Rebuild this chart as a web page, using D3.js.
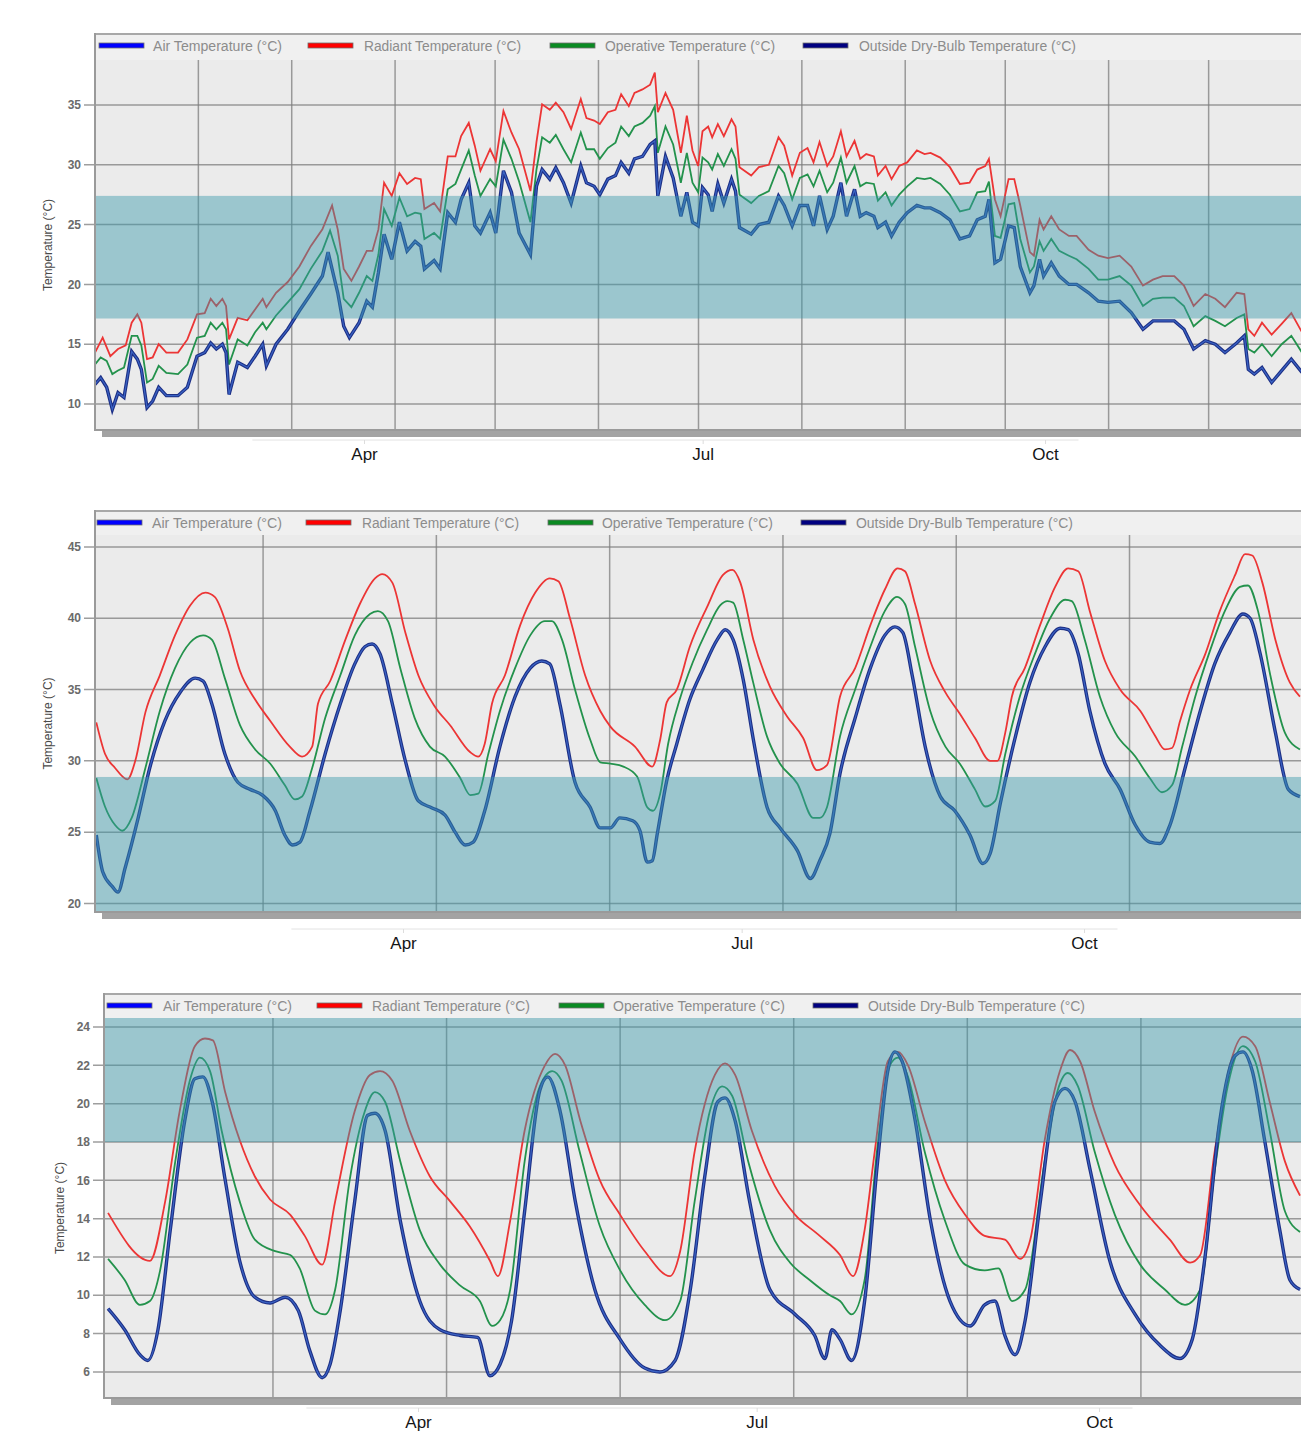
<!DOCTYPE html>
<html>
<head>
<meta charset="utf-8">
<script src="https://cdn.jsdelivr.net/npm/d3@7"></script>
<style>
  body { margin: 0; background: #fff; }
  svg { display: block; font-family: "Liberation Sans", Arial, sans-serif; }
</style>
</head>
<body>
<svg id="chart" width="1301" height="1440"></svg>
<script>
// Legend / series names
var seriesNames = ["Air Temperature (°C)", "Radiant Temperature (°C)", "Operative Temperature (°C)", "Outside Dry-Bulb Temperature (°C)"]
var legendColors = ["#0000ff", "#ff0000", "#0a8a22", "#000080"]
var yTitle = "Temperature (°C)"

// Bottom axis month labels
var labelMonths = [new Date(2019, 3, 1), new Date(2019, 6, 1), new Date(2019, 9, 1)]

// Panel 1: daily values, [day of year, °C]
var monthStartDays = [31, 59, 90, 120, 151, 181, 212, 243, 273, 304, 334]
var yTicks1 = [10, 15, 20, 25, 30, 35]
var band1 = [17.15, 27.4]

var radiant1 = [[0,14.3],[2.3,15.55],[4.6,14.0],[6.9,14.6],[9.2,14.9],[11,16.8],[12.7,17.5],[13.9,16.8],[15.6,13.75],[17.3,13.9],[19.1,15.0],[21.4,14.3],[24.9,14.3],[27.7,15.4],[30.6,17.5],[32.9,17.6],[34.7,18.8],[36.4,18.2],[38.2,18.8],[39.3,18.2],[40.2,15.4],[42.8,17.2],[45.7,17.0],[48,17.9],[50.3,18.8],[51.4,18.1],[54.3,19.3],[57.8,20.2],[61.3,21.5],[64.7,23.2],[68.2,24.6],[71.1,26.6],[72.8,24.6],[74.6,21.3],[76.9,20.3],[79.2,21.5],[81.5,22.8],[83.2,22.8],[85,24.6],[86.7,28.5],[89,27.4],[91.3,29.3],[93.6,28.4],[96,28.9],[97.7,28.8],[98.8,26.3],[101.7,26.8],[103.5,26.1],[105.8,30.7],[108.1,30.7],[109.8,32.4],[112.1,33.5],[113.9,31.6],[115.6,29.5],[118.5,31.3],[120.2,30.3],[122.5,34.5],[124.9,32.7],[127.2,31.3],[130.6,27.8],[132.4,31.9],[134.1,35.05],[136.4,34.6],[138.2,35.2],[140.5,34.4],[142.8,33.0],[145.7,35.5],[147.4,33.9],[149.7,33.7],[151.4,33.4],[153.8,34.4],[156.1,34.6],[157.8,35.9],[160.1,34.9],[161.8,36.0],[164.2,36.3],[166.5,36.7],[167.9,37.7],[168.8,34.4],[171.1,36.0],[173.4,34.6],[175.7,31.0],[177.5,34.1],[179.2,31.2],[180.9,29.9],
  [182.2,32.8],[183.9,33.2],[185.1,32.3],[186.8,33.4],[188.6,32.4],[190.9,33.8],[192.1,33.2],[193.3,29.8],[196.8,29.1],[199.1,29.8],[202.1,30.0],[205,32.3],[206.7,31.6],[209.1,29.1],[211.4,31.0],[213.7,31.4],[215.5,30.2],[217.3,31.9],[219.6,29.9],[221.4,30.7],[223.7,32.8],[225.4,30.7],[227.8,32.0],[229.5,30.5],[231.3,30.9],[233.6,30.7],[234.8,29.1],[237.1,29.9],[238.9,28.8],[241.2,29.9],[243.6,30.2],[246.5,31.2],[248.8,30.9],[250.6,31.0],[253.5,30.6],[256.4,29.8],[259.4,28.4],[262.3,28.5],[264.6,29.6],[267,29.9],[268.1,30.5],[269.9,27.1],[271.6,25.7],[274,28.8],[275.7,28.8],[277.5,26.6],[280.4,22.7],[281.6,22.4],[283.3,25.4],[284.5,24.6],[286.8,25.7],[289.2,24.6],[292.1,24.05],[294.4,24.05],[298,22.9],[300.9,22.4],[303.8,22.2],[307.3,22.4],[310.8,21.5],[314.3,19.9],[317.3,20.4],[320.2,20.7],[323.7,20.7],[326.6,19.9],[329.5,18.2],[333,19.2],[336,18.8],[338.9,18.1],[342.4,19.3],[344.7,19.2],[345.9,16.25],[347.7,15.7],[350,16.8],[352.9,15.8],[355.9,16.7],[358.8,17.6],[362,16.0]]

var operative1 = [[0,13.3],[1.7,13.9],[3.5,13.6],[5.2,12.5],[6.9,12.8],[8.7,13.05],[11,15.7],[12.7,15.7],[13.9,14.9],[15.6,11.8],[17.3,12.1],[19.1,13.2],[21.4,12.6],[24.9,12.5],[27.7,13.3],[30.6,15.55],[32.9,15.7],[34.7,16.8],[36.4,16.25],[38.2,16.8],[39.3,16.25],[40.2,13.3],[42.8,15.4],[45.7,14.9],[48,16.0],[50.3,16.8],[51.4,16.25],[54.3,17.4],[57.8,18.5],[61.3,19.6],[64.7,21.3],[68.2,22.8],[70.5,24.5],[72.8,22.4],[74.6,18.8],[76.9,18.1],[79.2,19.3],[81.5,20.7],[83.2,20.3],[85,22.5],[86.7,26.3],[89,24.9],[91.3,27.25],[93.6,25.7],[96,26.0],[97.7,25.9],[98.8,23.8],[101.7,24.3],[103.5,23.8],[105.8,27.95],[108.1,28.4],[109.8,29.6],[112.1,31.2],[113.9,29.1],[115.6,27.4],[118.5,28.8],[120.2,28.2],[122.5,32.1],[124.9,30.5],[127.2,28.6],[130.6,25.2],[132.4,29.6],[134.1,32.3],[136.4,31.85],[138.2,32.5],[140.5,31.3],[142.8,30.2],[145.7,32.7],[147.4,31.3],[149.7,31.3],[151.4,30.5],[153.8,31.4],[156.1,31.85],[157.8,33.2],[160.1,32.4],[161.8,33.2],[164.2,33.5],[166.5,34.1],[167.9,34.9],[168.8,31.0],[171.1,33.2],[173.4,31.7],[175.7,28.5],[177.5,31.0],[179.2,28.5],[180.9,27.7],
  [182.2,30.6],[183.9,30.2],[185.1,29.6],[186.8,30.9],[188.6,29.9],[190.9,31.3],[192.1,30.5],[193.3,27.5],[196.8,26.8],[199.1,27.4],[202.1,27.8],[205,29.9],[206.7,29.3],[209.1,27.1],[211.4,28.9],[213.7,29.2],[215.5,28.2],[217.3,29.5],[219.6,27.7],[221.4,28.5],[223.7,30.6],[225.4,28.5],[227.8,29.9],[229.5,28.2],[231.3,28.5],[233.6,28.4],[234.8,27.0],[237.1,27.7],[238.9,26.6],[241.2,27.5],[243.6,28.2],[246.5,28.9],[248.8,28.8],[250.6,28.9],[253.5,28.4],[256.4,27.5],[259.4,26.1],[262.3,26.3],[264.6,27.7],[267,27.8],[268.1,28.6],[269.9,24.05],[271.6,23.9],[274,26.7],[275.7,26.8],[277.5,23.8],[280.4,21.0],[281.6,21.5],[283.3,23.6],[284.5,22.8],[286.8,23.8],[289.2,22.8],[292.1,22.4],[294.4,22.1],[298,21.3],[300.9,20.4],[303.8,20.4],[307.3,20.7],[310.8,19.9],[314.3,18.2],[317.3,18.8],[320.2,18.9],[323.7,18.9],[326.6,18.2],[329.5,16.5],[333,17.35],[336,16.95],[338.9,16.5],[342.4,17.2],[344.7,17.5],[345.9,14.6],[347.7,14.3],[350,15.0],[352.9,14.0],[355.9,15.0],[358.8,15.7],[362,14.3]]

var outside1 = [[0,11.65],[1.7,12.2],[3.5,11.4],[5.2,9.55],[6.9,10.95],[8.7,10.55],[11,14.4],[12.7,13.75],[13.9,12.9],[15.6,9.7],[17.3,10.25],[19.1,11.4],[21.4,10.7],[24.9,10.7],[27.7,11.4],[30.6,14.0],[32.9,14.3],[34.7,15.1],[36.4,14.6],[38.2,15.0],[39.3,14.3],[40.2,10.8],[42.8,13.5],[45.7,13.05],[48,14.0],[50.3,15.0],[51.4,13.2],[54.3,15.0],[57.8,16.25],[61.3,17.8],[64.7,19.2],[68.2,20.7],[69.9,22.7],[72.8,19.3],[74.6,16.5],[76.3,15.55],[79.2,16.8],[81.5,18.6],[83.2,18.1],[85,21.0],[86.7,24.2],[89,22.1],[91.3,25.2],[93.6,22.8],[96,23.6],[97.7,23.2],[98.8,21.3],[101.7,22.0],[103.5,21.3],[105.8,26.0],[108.1,25.2],[109.8,27.1],[112.1,28.5],[113.9,24.9],[115.6,24.3],[118.5,26.0],[120.2,24.3],[122.5,29.5],[124.9,27.7],[127.2,24.3],[130.6,22.5],[132.4,28.2],[134.1,29.6],[136.4,28.8],[138.2,29.75],[140.5,28.5],[142.8,26.8],[145.7,29.9],[147.4,28.5],[149.7,28.2],[151.4,27.5],[153.8,28.8],[156.1,29.1],[157.8,30.2],[160.1,29.3],[161.8,30.5],[164.2,30.7],[166.5,31.7],[167.9,32.0],[168.8,27.4],[171.1,30.7],[173.4,28.9],[175.7,25.7],[177.5,27.7],[179.2,25.2],[180.9,24.9],
  [182.2,28.1],[183.9,27.5],[185.1,26.1],[186.8,28.4],[188.6,26.8],[190.9,28.8],[192.1,27.8],[193.3,24.75],[196.8,24.2],[199.1,25.0],[202.1,25.2],[205,27.4],[206.7,26.6],[209.1,24.9],[211.4,26.6],[213.7,26.6],[215.5,24.9],[217.3,27.4],[219.6,24.6],[221.4,25.7],[223.7,28.5],[225.4,25.7],[227.8,27.95],[229.5,25.7],[231.3,26.0],[233.6,25.7],[234.8,24.75],[237.1,25.2],[238.9,24.05],[241.2,25.2],[243.6,26.0],[246.5,26.6],[248.8,26.4],[250.6,26.4],[253.5,26.0],[256.4,25.4],[259.4,23.8],[262.3,24.05],[264.6,25.4],[267,25.7],[268.1,27.1],[269.9,21.8],[271.6,22.1],[274,24.9],[275.7,24.75],[277.5,21.5],[280.4,19.3],[281.6,19.9],[283.3,22.1],[284.5,20.7],[286.8,21.8],[289.2,20.7],[292.1,20.0],[294.4,20.0],[298,19.3],[300.9,18.6],[303.8,18.5],[307.3,18.6],[310.8,17.65],[314.3,16.25],[317.3,16.95],[320.2,16.95],[323.7,16.95],[326.6,16.25],[329.5,14.6],[333,15.3],[336,15.0],[338.9,14.3],[342.4,15.1],[344.7,15.7],[345.9,12.9],[347.7,12.5],[350,13.05],[352.9,11.8],[355.9,12.8],[358.8,13.75],[362,12.65]]

// air temperature sits on top of the outside dry-bulb line in this run
var air1 = outside1

// Panel 2: hourly values over one week, [hour, °C]
var dayBoundaries = [24, 48, 72, 96, 120, 144]
var yTicks2 = [20, 25, 30, 35, 40, 45]
var band2 = [18, 28.87]

var radiant2 = [[0.9,32.7],[2.1,30.5],[3.5,29.5],[5.2,28.7],[6.3,30.0],[7.7,33.4],[9.7,36.0],[11.8,38.8],[13.9,40.9],[16,41.8],[17.3,41.5],[19.1,39.3],[20.8,36.3],[22.9,34.3],[25,32.8],[27.7,31.0],[29.4,30.3],[30.8,31.0],[31.6,34.0],[33.3,35.6],[35.4,38.5],[37.4,41.0],[39.5,42.8],[40.5,43.1],[41.9,42.5],[43.7,39.0],[45.5,36.0],[47.8,33.8],[49.9,32.5],[52.7,30.6],[53.8,30.3],[54.7,31.2],[55.7,34.0],[57.5,36.0],[59.6,39.5],[61.7,41.8],[63.7,42.8],[64.9,42.6],[66.5,40.0],[68.6,36.0],[70.7,33.5],[72.1,32.4],[75.5,31.0],[77.9,29.6],[79,31.5],[79.9,34.1],[81.3,35.0],[83.1,38.0],[85.5,40.8],[87.7,43.05],[89,43.4],[90.1,42.5],[91.9,38.5],[94.2,35.2],[96.6,33.1],[98.8,31.6],[100.7,29.35],[102.1,29.7],[103.9,34.5],[106,36.5],[108.1,39.5],[110.1,42.0],[111.9,43.5],[112.9,43.3],[114.3,41.0],[116.4,37.0],[118.5,34.8],[120.5,33.3],[122.6,31.6],[124.7,30.0],[125.7,30.0],[126.8,32.0],[127.7,34.5],[129.5,36.5],[131.6,39.5],[133.7,42.2],[135.5,43.5],[136.9,43.3],[138.5,40.5],[140.6,37.0],[142.7,35.0],[145.5,33.5],[147.5,31.8],[148.9,30.8],[149.9,30.9],[151,32.8],[152.4,35.0],[154.5,37.5],[156.5,40.5],[158.6,43.0],[160,44.5],[161,44.4],[162.4,42.5],[164.2,38.5],[166.2,35.5],[167.6,34.5]]

var operative2 = [[0.9,28.8],[2.1,26.8],[3.5,25.5],[4.5,25.1],[5.8,26.0],[7.7,29.5],[9.7,33.5],[11.8,36.5],[13.9,38.3],[15.7,38.8],[16.9,38.5],[18.7,35.8],[20.8,32.5],[22.9,30.8],[25,29.8],[27,28.3],[28.4,27.3],[29.4,27.5],[30.8,29.5],[32.6,33.0],[34.7,36.0],[36.7,38.8],[38.8,40.3],[39.9,40.5],[41.3,39.8],[43,36.5],[45,33.0],[47.1,31.0],[49.2,30.3],[51.3,28.8],[52.7,27.6],[53.8,27.7],[55.2,30.5],[56.8,33.5],[58.9,36.5],[61,38.8],[63,39.8],[64,39.8],[65.4,38.5],[67.2,35.0],[69.3,31.5],[70.7,29.9],[72.1,29.8],[73.9,29.6],[75.8,28.9],[77.2,26.75],[78,26.5],[79,27.7],[80.1,31.2],[81.7,34.3],[83.5,36.9],[85.5,39.2],[87.3,40.9],[88.3,41.2],[89.1,41.1],[90.5,38.5],[91.9,35.45],[93.8,31.7],[95.6,29.8],[98,28.4],[100.2,26.0],[101.1,26.0],[102.1,26.75],[103.9,31.7],[106,35.0],[108.1,38.0],[110.1,40.5],[111.8,41.5],[112.9,41.0],[114.3,38.0],[116.4,33.5],[118.5,31.0],[120.5,29.8],[122.6,28.0],[124,26.8],[125.4,27.2],[126.8,30.5],[128.8,34.5],[130.9,37.5],[133,40.0],[135.1,41.3],[136,41.2],[137.8,38.5],[139.9,34.5],[142,32.0],[144.8,30.3],[146.8,28.8],[148.5,27.8],[149.9,28.3],[151.3,31.0],[153.1,34.5],[155.2,37.8],[157.2,40.5],[159.3,42.2],[160.4,42.3],[161.8,40.5],[163.5,36.0],[165.5,32.0],[167.6,30.8]]

var outside2 = [[0.9,24.8],[1.8,22.2],[3.1,21.2],[3.9,20.8],[4.9,22.5],[6.7,26.0],[8.3,29.5],[10.4,32.8],[12.5,34.8],[14.6,35.8],[15.7,35.6],[16.9,34.0],[18.7,30.5],[20.5,28.5],[22.2,28.0],[23.9,27.6],[25.7,26.5],[27,24.8],[28.1,24.1],[29.1,24.3],[30.5,26.5],[32.6,30.5],[34.7,34.0],[36.7,36.8],[38.1,38.0],[39.1,38.2],[40.2,37.5],[41.9,34.0],[43.7,30.0],[45.5,27.2],[47.4,26.7],[49.2,26.2],[50.6,25.0],[52,24.1],[53.1,24.3],[54.7,26.5],[56.8,31.0],[58.9,34.5],[61,36.5],[62.6,37.0],[63.7,36.8],[65.1,34.0],[67.2,28.5],[69.3,26.75],[70.7,25.3],[72.1,25.3],[73.4,26.0],[75.2,25.8],[76.2,25.1],[77.2,22.9],[77.9,23.0],[78.6,24.9],[79.9,28.6],[81.3,31.2],[83.1,34.3],[84.9,36.4],[86.9,38.5],[88,39.2],[89.1,38.5],[90.5,35.7],[91.9,31.5],[93.8,26.75],[95.6,25.3],[98,23.7],[99.8,21.75],[101.1,23.0],[102.5,24.9],[103.9,29.1],[106,33.0],[108.1,36.5],[110.1,38.8],[111.5,39.4],[112.6,39.0],[113.9,36.0],[115.7,31.0],[117.8,27.5],[119.8,26.5],[121.9,24.8],[123.7,22.8],[124.7,23.5],[126.1,27.0],[128.1,31.5],[130.2,35.5],[132.3,38.0],[134.4,39.3],[135.5,39.2],[136.9,37.5],[138.5,33.5],[140.6,29.8],[142.7,28.0],[144.8,25.5],[146.8,24.3],[148.2,24.2],[149.6,25.5],[151.7,29.5],[153.8,33.5],[155.8,36.8],[157.9,39.0],[159.7,40.3],[160.7,40.0],[162.1,37.5],[164.2,32.0],[166,28.0],[167.6,27.5]]

var air2 = outside2

// Panel 3: hourly values over one week, [hour, °C]
var yTicks3 = [6, 8, 10, 12, 14, 16, 18, 20, 22, 24]
var band3 = [18, 25]

var radiant3 = [[1.2,14.3],[7,11.8],[9.1,14.9],[11.1,19.6],[13.2,23.0],[14.6,23.4],[15.7,23.3],[17.4,20.6],[19.4,18.1],[21.5,16.2],[23.6,15.0],[26.4,14.2],[28.4,13.1],[30.8,11.6],[32.6,14.9],[35.3,19.6],[37.4,21.5],[38.8,21.7],[40.5,21.2],[42.9,18.6],[45.7,16.2],[48.5,14.9],[51.2,13.6],[54,11.8],[55.1,11.0],[56.8,13.9],[58.8,18.6],[61.6,22.0],[63,22.6],[64.4,22.0],[66.5,19.1],[69.2,16.0],[72,14.2],[75.4,12.3],[78.9,11.0],[80.3,12.3],[82.3,17.5],[85.1,21.5],[86.5,22.1],[87.9,21.5],[90.2,18.6],[93.4,15.7],[96.2,14.2],[99.6,13.1],[102.4,12.1],[104.2,11.0],[105.8,13.4],[107.2,17.5],[109,22.2],[110.4,22.7],[111.8,22.0],[114.1,19.1],[116.9,16.0],[119.7,14.2],[122.4,13.1],[125.2,12.9],[127.3,11.9],[128.7,12.9],[130.7,18.1],[132.8,21.7],[134.2,22.8],[135.6,22.2],[137.6,19.6],[140.4,16.8],[143.9,14.7],[148,12.9],[150.8,11.7],[152.2,12.1],[154.2,17.5],[156.3,22.0],[158.1,23.5],[159.8,23.0],[161.8,20.1],[163.9,17.0],[166,15.2]]

var operative3 = [[1.2,11.9],[3.5,10.8],[5.6,9.5],[7,9.7],[8.4,11.3],[10.5,17.0],[12.5,21.2],[13.9,22.4],[15.3,21.7],[16.9,18.6],[19.4,14.9],[21.5,12.9],[24.3,12.3],[26.4,12.1],[27.7,11.4],[29.8,9.2],[31.2,9.0],[32.6,10.3],[34.6,16.0],[36.7,19.6],[38.1,20.6],[39.5,20.1],[41.6,17.0],[44.3,13.4],[47.1,11.6],[49.9,10.5],[52.6,9.7],[54.3,8.4],[55.4,8.7],[56.8,10.3],[58.8,17.0],[60.9,20.9],[62.6,21.7],[63.9,21.2],[66.4,17.5],[69.2,13.6],[72,11.3],[75.4,9.5],[78.2,8.7],[80.3,9.7],[82.3,14.9],[84.4,19.6],[86.1,20.9],[87.5,20.4],[89.7,17.0],[92.7,13.4],[95.5,11.7],[98.2,10.8],[101,10.0],[102.4,9.7],[104,9.0],[105.8,10.8],[107.5,17.5],[109.3,22.0],[110.4,22.4],[111.8,21.4],[114.1,17.5],[116.9,13.9],[119.7,11.6],[122.4,11.3],[124.3,11.4],[126.2,9.7],[128,10.3],[130.7,17.0],[132.5,20.7],[133.9,21.6],[135.3,20.9],[137.6,17.5],[140.4,14.2],[143.9,11.6],[147.3,10.3],[150.1,9.5],[152.2,10.3],[154.2,16.5],[156,20.9],[158.1,23.0],[159.8,22.2],[161.8,18.6],[163.9,14.4],[166,13.3]]

var outside3 = [[1.2,9.3],[3.5,8.2],[5.6,6.9],[6.7,6.6],[8.1,8.2],[9.8,13.4],[11.8,19.1],[13.2,21.3],[14.3,21.4],[15.6,20.1],[17.4,16.0],[19.4,11.8],[21.5,9.9],[23.6,9.6],[25.7,9.9],[27.5,9.2],[29.1,7.1],[30.8,5.7],[31.9,6.4],[33.3,9.2],[35.3,14.9],[37.1,19.4],[38.1,19.5],[39.5,18.6],[41.6,13.9],[44.3,9.7],[47.1,8.2],[49.9,7.9],[52.3,7.8],[54,5.8],[55.4,6.4],[57,8.7],[58.8,14.4],[60.9,20.7],[62,21.4],[63.7,19.6],[65.8,14.9],[68.5,10.3],[72,7.7],[75.4,6.2],[77.5,6.0],[79.6,6.6],[81.7,10.3],[83.7,16.2],[85.5,20.1],[86.5,20.3],[87.9,19.1],[89.9,14.9],[92.7,10.3],[96.2,9.0],[98.9,7.9],[100.3,6.7],[101.3,8.2],[102.4,7.7],[104,6.6],[105.8,9.7],[107.6,17.0],[109,21.7],[110,22.7],[111,22.2],[112.8,19.1],[114.9,13.9],[117.6,9.7],[120.4,8.4],[122.4,9.5],[123.8,9.7],[125.2,7.9],[126.6,6.9],[128,8.7],[130.1,14.9],[132.1,20.1],[133.5,20.8],[134.9,20.1],[137,16.5],[139.7,11.8],[143.2,9.0],[146.6,7.4],[149.4,6.7],[151.1,7.7],[152.8,11.8],[154.9,19.1],[157,22.5],[158.1,22.7],[159.4,21.7],[161.1,18.1],[163.2,13.4],[164.6,10.8],[166,10.3]]

var air3 = outside3

// Panel layout
var panels = [
  { legendTop: 33, top: 60, bottom: 430, left: 95, xDomain: [0, 365], xRange: [95, 1312],
    yDomain: [7.83, 38.76], yTicks: yTicks1, vGrid: monthStartDays, band: band1,
    labelStart: 29.1, axisGap: 10, titleX: 48, curve: d3.curveLinear,
    legendSwatchX: [99, 308, 550, 803], legendTextX: [153, 364, 605, 859], legendTextW: [129, 157, 170, 217],
    radiant: radiant1, operative: operative1, outside: outside1, air: air1 },
  { legendTop: 510, top: 535, bottom: 912, left: 95, xDomain: [0.72, 168], xRange: [95, 1302.8],
    yDomain: [19.4, 45.84], yTicks: yTicks2, vGrid: dayBoundaries, band: band2,
    labelStart: 68.1, axisGap: 17, titleX: 48, curve: d3.curveMonotoneX,
    legendSwatchX: [97, 306, 548, 801], legendTextX: [152, 362, 602, 856], legendTextW: [130, 157, 171, 217],
    radiant: radiant2, operative: operative2, outside: outside2, air: air2 },
  { legendTop: 993, top: 1018, bottom: 1398, left: 104, xDomain: [0.64, 168], xRange: [104, 1314.5],
    yDomain: [4.64, 24.47], yTicks: yTicks3, vGrid: dayBoundaries, band: band3,
    labelStart: 83.1, axisGap: 10, titleX: 60, curve: d3.curveMonotoneX,
    legendSwatchX: [107, 317, 559, 813], legendTextX: [163, 372, 613, 868], legendTextW: [129, 158, 172, 217],
    radiant: radiant3, operative: operative3, outside: outside3, air: air3 }
]

var svg = d3.select("#chart")
var W = 1301

panels.forEach(drawPanel)

function drawPanel(p, i) {
  var g = svg.append("g")
  var x = d3.scaleLinear().domain(p.xDomain).range(p.xRange)
  var y = d3.scaleLinear().domain(p.yDomain).range([p.bottom, p.top])

  // drop shadow under the plot
  g.append("rect")
    .attr("x", p.left + 7).attr("y", p.bottom + 1)
    .attr("width", W - p.left).attr("height", 6)
    .attr("fill", "#a3a3a3")

  // legend strip
  g.append("rect")
    .attr("x", p.left).attr("y", p.legendTop)
    .attr("width", W - p.left).attr("height", p.top - p.legendTop)
    .attr("fill", "#f0f0f0")
  g.append("line")
    .attr("x1", p.left).attr("x2", W)
    .attr("y1", p.legendTop + 1).attr("y2", p.legendTop + 1)
    .attr("stroke", "#a8a8a8").attr("stroke-width", 2)

  // plot background
  g.append("rect")
    .attr("x", p.left).attr("y", p.top)
    .attr("width", W - p.left).attr("height", p.bottom - p.top)
    .attr("fill", "#ebebeb")

  var clipId = "clip" + i
  g.append("clipPath").attr("id", clipId)
    .append("rect")
    .attr("x", p.left).attr("y", p.top)
    .attr("width", W - p.left).attr("height", p.bottom - p.top)

  // grid
  g.append("g").selectAll("line.h")
    .data(p.yTicks).join("line")
    .attr("x1", p.left - 11).attr("x2", W)
    .attr("y1", d => y(d)).attr("y2", d => y(d))
    .attr("stroke", "#7d7d7d").attr("stroke-opacity", 0.75).attr("stroke-width", 1.5)

  g.append("g").selectAll("line.v")
    .data(p.vGrid).join("line")
    .attr("x1", d => x(d)).attr("x2", d => x(d))
    .attr("y1", p.top).attr("y2", p.bottom)
    .attr("stroke", "#7d7d7d").attr("stroke-opacity", 0.75).attr("stroke-width", 1.5)

  // y tick labels
  g.append("g").selectAll("text")
    .data(p.yTicks).join("text")
    .attr("x", p.left - 14).attr("y", d => y(d))
    .attr("dy", "0.35em")
    .attr("text-anchor", "end")
    .attr("font-size", 12).attr("font-weight", "bold")
    .attr("fill", "#6b6b6b")
    .text(d => d)

  // y title
  g.append("text")
    .attr("transform", "translate(" + p.titleX + "," + ((p.top + p.bottom) / 2) + ") rotate(-90)")
    .attr("text-anchor", "middle").attr("dy", "0.35em")
    .attr("font-size", 12).attr("fill", "#4a4a4a")
    .text(yTitle)

  // lines
  var line = d3.line()
    .x(d => x(d[0]))
    .y(d => y(d[1]))
    .curve(p.curve)

  var lines = g.append("g").attr("clip-path", "url(#" + clipId + ")")
  lines.append("path").datum(p.radiant)
    .attr("d", line).attr("fill", "none")
    .attr("stroke", "#ec3535").attr("stroke-width", 1.8)
  lines.append("path").datum(p.operative)
    .attr("d", line).attr("fill", "none")
    .attr("stroke", "#23924c").attr("stroke-width", 1.8)
  lines.append("path").datum(p.outside)
    .attr("d", line).attr("fill", "none")
    .attr("stroke", "#1d2f85").attr("stroke-width", 3.4)
  lines.append("path").datum(p.air)
    .attr("d", line).attr("fill", "none")
    .attr("stroke", "#3a63c4").attr("stroke-width", 1.2)

  // comfort band drawn over everything in the plot
  var b0 = Math.max(p.band[0], p.yDomain[0]), b1 = Math.min(p.band[1], p.yDomain[1])
  g.append("rect")
    .attr("x", p.left).attr("y", y(b1))
    .attr("width", W - p.left).attr("height", y(b0) - y(b1))
    .attr("fill", "#3a9aab").attr("fill-opacity", 0.45)

  // frame borders
  g.append("line")
    .attr("x1", p.left).attr("x2", p.left)
    .attr("y1", p.legendTop).attr("y2", p.bottom + 1)
    .attr("stroke", "#9a9a9a").attr("stroke-width", 2)
  g.append("line")
    .attr("x1", p.left).attr("x2", W)
    .attr("y1", p.bottom).attr("y2", p.bottom)
    .attr("stroke", "#9a9a9a").attr("stroke-width", 2)

  // legend
  var leg = g.append("g")
  seriesNames.forEach(function(name, k) {
    leg.append("rect")
      .attr("x", p.legendSwatchX[k]).attr("y", p.legendTop + 10)
      .attr("width", 45).attr("height", 5)
      .attr("fill", legendColors[k])
      .attr("stroke", "#6f6f6f").attr("stroke-width", 0.8)
    leg.append("text")
      .attr("x", p.legendTextX[k]).attr("y", p.legendTop + 18)
      .attr("font-size", 14).attr("fill", "#8c8c8c")
      .attr("textLength", p.legendTextW[k]).attr("lengthAdjust", "spacingAndGlyphs")
      .text(name)
  })

  // bottom month axis
  var t = d3.scaleTime()
    .domain([new Date(2019, 0, 1), new Date(2020, 0, 1)])
    .range([p.labelStart, p.labelStart + 1358.3])
  var axisY = p.bottom + p.axisGap
  g.append("line")
    .attr("x1", t(new Date(2019, 2, 2))).attr("x2", t(new Date(2019, 9, 10)))
    .attr("y1", axisY).attr("y2", axisY)
    .attr("stroke", "#e2e2e2").attr("stroke-width", 1)
  var ax = g.append("g")
    .attr("transform", "translate(0," + axisY + ")")
    .call(d3.axisBottom(t).tickValues(labelMonths).tickFormat(d3.timeFormat("%b")).tickSize(4).tickPadding(4))
  ax.select(".domain").remove()
  ax.selectAll(".tick line").attr("stroke", "#dddddd")
  ax.selectAll(".tick text")
    .attr("font-size", 17).attr("fill", "#151515")
    .attr("font-family", "'Liberation Sans', Arial, sans-serif")
}
</script>
</body>
</html>
